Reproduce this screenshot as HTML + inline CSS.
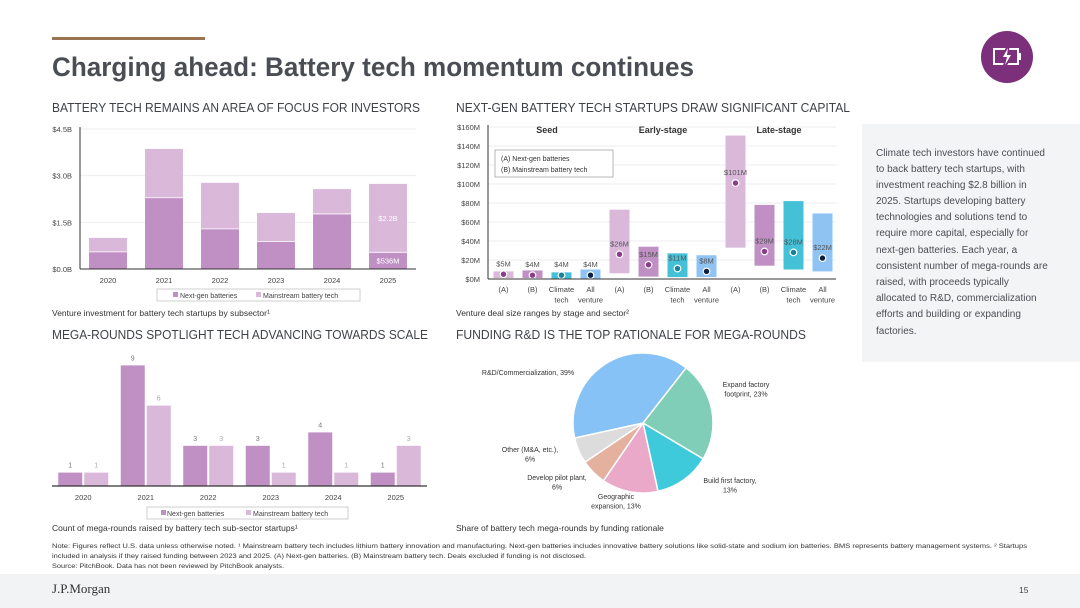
<!DOCTYPE html>
<html><head><meta charset="utf-8"><style>
html,body{margin:0;padding:0;background:#fff;}
svg{display:block;font-family:"Liberation Sans",sans-serif;}
</style></head><body>
<svg id="page" width="1080" height="608" viewBox="0 0 1080 608">
<rect x="0" y="0" width="1080" height="608" fill="#fff"/>
<rect x="52" y="37" width="153" height="3" fill="#9a7450"/>
<text x="52" y="76" font-size="27" font-weight="bold" fill="#4a4e54" textLength="642" lengthAdjust="spacingAndGlyphs">Charging ahead: Battery tech momentum continues</text>
<g>
<circle cx="1007" cy="57" r="26" fill="#7c2f7a"/>
<rect x="994" y="49" width="24" height="15" fill="none" stroke="#fff" stroke-width="2"/>
<rect x="1018" y="53" width="3" height="7" fill="#fff"/>
<path d="M1008 47 L1002 58 L1007 58 L1004 67 L1012 55 L1007 55 Z" fill="#7c2f7a" stroke="#7c2f7a" stroke-width="3"/>
<path d="M1008 48 L1003 57 L1007 57 L1005 65 L1011 55 L1007 55 Z" fill="#fff"/>
</g>
<text x="52" y="112" font-size="12.5" fill="#3f4348" textLength="368" lengthAdjust="spacingAndGlyphs">BATTERY TECH REMAINS AN AREA OF FOCUS FOR INVESTORS</text>
<text x="456" y="112" font-size="12.5" fill="#3f4348" textLength="394" lengthAdjust="spacingAndGlyphs">NEXT-GEN BATTERY TECH STARTUPS DRAW SIGNIFICANT CAPITAL</text>
<text x="52" y="339" font-size="12.5" fill="#3f4348" textLength="376" lengthAdjust="spacingAndGlyphs">MEGA-ROUNDS SPOTLIGHT TECH ADVANCING TOWARDS SCALE</text>
<text x="456" y="339" font-size="12.5" fill="#3f4348" textLength="350" lengthAdjust="spacingAndGlyphs">FUNDING R&amp;D IS THE TOP RATIONALE FOR MEGA-ROUNDS</text>

<g id="c1"></g>
<g id="c2"></g>
<g id="c3"></g>
<g id="c4"></g>

<text x="52" y="316" font-size="8.5" fill="#333">Venture investment for battery tech startups by subsector¹</text>
<text x="456" y="316" font-size="8.5" fill="#333">Venture deal size ranges by stage and sector²</text>
<text x="52" y="531" font-size="8.5" fill="#333">Count of mega-rounds raised by battery tech sub-sector startups¹</text>
<text x="456" y="531" font-size="8.5" fill="#333">Share of battery tech mega-rounds by funding rationale</text>

<g>
<rect x="862" y="124" width="218" height="238" fill="#f3f4f5"/>
<g font-size="10" fill="#4a4e54">
<text x="876" y="156">Climate tech investors have continued</text>
<text x="876" y="172">to back battery tech startups, with</text>
<text x="876" y="188">investment reaching $2.8 billion in</text>
<text x="876" y="204">2025. Startups developing battery</text>
<text x="876" y="220">technologies and solutions tend to</text>
<text x="876" y="236">require more capital, especially for</text>
<text x="876" y="253">next-gen batteries. Each year, a</text>
<text x="876" y="269">consistent number of mega-rounds are</text>
<text x="876" y="285">raised, with proceeds typically</text>
<text x="876" y="301">allocated to R&amp;D, commercialization</text>
<text x="876" y="317">efforts and building or expanding</text>
<text x="876" y="334">factories.</text>
</g></g>

<g font-size="6.6" fill="#333">
<text x="52" y="548" textLength="975" lengthAdjust="spacingAndGlyphs">Note: Figures reflect U.S. data unless otherwise noted. ¹ Mainstream battery tech includes lithium battery innovation and manufacturing. Next-gen batteries includes innovative battery solutions like solid-state and sodium ion batteries. BMS represents battery management systems. ² Startups</text>
<text x="52" y="558" textLength="534" lengthAdjust="spacingAndGlyphs">included in analysis if they raised funding between 2023 and 2025. (A) Next-gen batteries. (B) Mainstream battery tech. Deals excluded if funding is not disclosed.</text>
<text x="52" y="568" textLength="232" lengthAdjust="spacingAndGlyphs">Source: PitchBook. Data has not been reviewed by PitchBook analysts.</text>
</g>
<rect x="0" y="574" width="1080" height="34" fill="#f2f3f4"/>
<text x="52" y="593" font-family="Liberation Serif,serif" font-size="13" fill="#333">J.P.Morgan</text>
<text x="1019" y="593" font-size="8.5" fill="#444">15</text>
</svg>
<script>
const NS="http://www.w3.org/2000/svg";
function mk(p,tag,a,txt){const e=document.createElementNS(NS,tag);for(const k in a)e.setAttribute(k,a[k]);if(txt!==undefined)e.textContent=txt;p.appendChild(e);return e;}

// Chart 1 data
const c1Years=["2020","2021","2022","2023","2024","2025"];
const c1NextGen=[0.55,2.29,1.29,0.88,1.77,0.536];
const c1Mainstream=[0.45,1.57,1.48,0.92,0.80,2.2];
const c1Ticks=[0,1.5,3.0,4.5];
const c1TickLabels=["$0.0B","$1.5B","$3.0B","$4.5B"];

// Chart 2 data
const c2Cats=["(A)","(B)","Climate|tech","All|venture","(A)","(B)","Climate|tech","All|venture","(A)","(B)","Climate|tech","All|venture"];
const c2Low=[1,1,0.5,0.5,6,2.5,2,2,33,14,10,8];
const c2High=[8,9,7,10,73,34,27,25,151,78,82,69];
const c2Median=[5,4,4,4,26,15,11,8,101,29,28,22];
const c2MedLabels=["$5M","$4M","$4M","$4M","$26M","$15M","$11M","$8M","$101M","$29M","$28M","$22M"];
const c2Ticks=[0,20,40,60,80,100,120,140,160];
const c2Stages=["Seed","Early-stage","Late-stage"];

// Chart 3 data
const c3Years=["2020","2021","2022","2023","2024","2025"];
const c3NextGen=[1,9,3,3,4,1];
const c3Mainstream=[1,6,3,1,1,3];

// Chart 4 data
const c4Labels=["Expand factory|footprint, 23%","Build first factory,|13%","Geographic|expansion, 13%","Develop pilot plant,|6%","Other (M&A, etc.),|6%","R&D/Commercialization, 39%"];
const c4Values=[23,13,13,6,6,39];

const PURPLE="#c08fc4", LPURPLE="#d9b8da";

// ---- chart 1
(function(){
  const g=document.getElementById('c1');
  const x0=80,x1=416,yb=269,yt=129,max=4.5;
  const y=v=>yb-(v/max)*(yb-yt);
  const step=(x1-x0)/c1Years.length, bw=38;
  c1Ticks.forEach((t,i)=>{
    if(t>0){const l=mk(g,'line',{x1:x0,x2:x1,y1:y(t),y2:y(t),stroke:'#eceef0','stroke-width':1});}
    const tx=mk(g,'text',{x:72,y:y(t)+3,'font-size':7.5,fill:'#444','text-anchor':'end'},c1TickLabels[i]);
    
  });
  c1Years.forEach((yr,i)=>{
    const cx=x0+step*(i+0.5);
    const b1=mk(g,'rect',{x:cx-bw/2,y:y(c1NextGen[i]),width:bw,height:yb-y(c1NextGen[i]),fill:PURPLE});
    
    const tot=c1NextGen[i]+c1Mainstream[i];
    const b2=mk(g,'rect',{x:cx-bw/2,y:y(tot),width:bw,height:y(c1NextGen[i])-y(tot),fill:LPURPLE});
    
    mk(g,'line',{x1:cx-bw/2,x2:cx+bw/2,y1:y(c1NextGen[i]),y2:y(c1NextGen[i]),stroke:'#fff','stroke-width':0.8});
    const tl=mk(g,'text',{x:cx,y:283,'font-size':7.5,fill:'#444','text-anchor':'middle'},yr);
    
    if(i===c1Years.length-1){
      const a=mk(g,'text',{x:cx,y:(y(tot)+y(c1NextGen[i]))/2+3,'font-size':7.5,fill:'#fff','text-anchor':'middle'},'$'+c1Mainstream[i].toFixed(1)+'B');
      
      const b=mk(g,'text',{x:cx,y:(yb+y(c1NextGen[i]))/2+3,'font-size':7.5,fill:'#fff','text-anchor':'middle'},'$'+Math.round(c1NextGen[i]*1000)+'M');
      
    }
  });
  mk(g,'line',{x1:x0,x2:x0,y1:yt-2,y2:yb,stroke:'#333','stroke-width':1});
  mk(g,'line',{x1:x0,x2:x1,y1:yb,y2:yb,stroke:'#333','stroke-width':1});
  const lg=mk(g,'g',{});
  mk(lg,'rect',{x:157,y:289,width:203,height:12,fill:'#fff',stroke:'#bbb','stroke-width':0.7});
  mk(lg,'rect',{x:173,y:292,width:5,height:5,fill:PURPLE});
  mk(lg,'text',{x:180,y:298,'font-size':7,fill:'#444'},'Next-gen batteries');
  mk(lg,'rect',{x:256,y:292,width:5,height:5,fill:LPURPLE});
  mk(lg,'text',{x:263,y:298,'font-size':7,fill:'#444'},'Mainstream battery tech');
})();

// ---- chart 2
(function(){
  const g=document.getElementById('c2');
  const x0=488,x1=836,yb=279,yt=127,max=160;
  const y=v=>yb-(v/max)*(yb-yt);
  const step=(x1-x0)/c2Cats.length, bw=20;
  const fills=["#d9b8da","#c08fc4","#45c1d7","#8ec3f4"];
  const dots=["#8a3e88","#8a3e88","#17839a","#0e1f42"];
  c2Ticks.forEach(t=>{
    if(t>0){const l=mk(g,'line',{x1:x0,x2:x1,y1:y(t),y2:y(t),stroke:'#eceef0','stroke-width':1});}
    const tx=mk(g,'text',{x:480,y:y(t)+3,'font-size':7.5,fill:'#444','text-anchor':'end'},'$'+t+'M');
    
  });
  c2Cats.forEach((c,i)=>{
    const cx=x0+step*(i+0.5)+1, k=i%4;
    const r=mk(g,'rect',{x:cx-bw/2,y:y(c2High[i]),width:bw,height:y(c2Low[i])-y(c2High[i]),fill:fills[k]});
    
    const d=mk(g,'circle',{cx:cx,cy:y(c2Median[i]),r:3.3,fill:dots[k],stroke:'#fff','stroke-width':1.2});
    
    const lb=mk(g,'text',{x:cx,y:y(c2Median[i])-8,'font-size':7.5,fill:'#555','text-anchor':'middle'},c2MedLabels[i]);
    
    c.split('|').forEach((p,j)=>{const t=mk(g,'text',{x:cx,y:292+j*10.5,'font-size':7.5,fill:'#444','text-anchor':'middle'},p);});
  });
  c2Stages.forEach((s,i)=>{
    const cx=x0+step*(i*4+2)+1;
    const t=mk(g,'text',{x:cx,y:133,'font-size':9,'font-weight':'bold',fill:'#333','text-anchor':'middle'},s);
    
  });
  mk(g,'line',{x1:x0,x2:x0,y1:yt-2,y2:yb,stroke:'#333','stroke-width':1});
  mk(g,'line',{x1:x0,x2:x1,y1:yb,y2:yb,stroke:'#333','stroke-width':1});
  const lg=mk(g,'g',{});
  mk(lg,'rect',{x:495,y:150,width:118,height:27,fill:'#fff',stroke:'#999','stroke-width':0.7});
  mk(lg,'text',{x:501,y:161,'font-size':7,fill:'#333'},'(A)   Next-gen batteries');
  mk(lg,'text',{x:501,y:172,'font-size':7,fill:'#333'},'(B)   Mainstream battery tech');
})();

// ---- chart 3
(function(){
  const g=document.getElementById('c3');
  const x0=52,x1=427,yb=486,max=9,unit=13.4;
  const y=v=>yb-v*unit;
  const step=(x1-x0)/c3Years.length, bw=24;
  c3Years.forEach((yr,i)=>{
    const cx=x0+step*(i+0.5);
    const a=mk(g,'rect',{x:cx-bw-1,y:y(c3NextGen[i]),width:bw,height:yb-y(c3NextGen[i]),fill:PURPLE});
    
    const b=mk(g,'rect',{x:cx+1,y:y(c3Mainstream[i]),width:bw,height:yb-y(c3Mainstream[i]),fill:LPURPLE});
    
    const la=mk(g,'text',{x:cx-bw/2-1,y:y(c3NextGen[i])-5,'font-size':7,fill:'#777','text-anchor':'middle'},c3NextGen[i]);
    
    const lb=mk(g,'text',{x:cx+bw/2+1,y:y(c3Mainstream[i])-5,'font-size':7,fill:'#aaa','text-anchor':'middle'},c3Mainstream[i]);
    
    const t=mk(g,'text',{x:cx,y:500,'font-size':7.5,fill:'#444','text-anchor':'middle'},yr);
    
  });
  mk(g,'line',{x1:x0,x2:x1,y1:yb,y2:yb,stroke:'#333','stroke-width':1.2});
  const lg=mk(g,'g',{});
  mk(lg,'rect',{x:147,y:507,width:201,height:12,fill:'#fff',stroke:'#bbb','stroke-width':0.7});
  mk(lg,'rect',{x:161,y:510,width:5,height:5,fill:PURPLE});
  mk(lg,'text',{x:167,y:516,'font-size':7,fill:'#444'},'Next-gen batteries');
  mk(lg,'rect',{x:246,y:510,width:5,height:5,fill:LPURPLE});
  mk(lg,'text',{x:253,y:516,'font-size':7,fill:'#444'},'Mainstream battery tech');
})();

// ---- chart 4 pie
(function(){
  const g=document.getElementById('c4');
  const cx=643,cy=423,r=70;
  const colors=["#80cdb8","#3fcadc","#eba9c9","#e4b19e","#dcdcdc","#86c2f6"];
  const labelPos=[[746,387],[730,483],[616,499],[557,480],[530,452],[528,375]];
  const total=c4Values.reduce((a,b)=>a+b,0);
  let ang=38*Math.PI/180;
  const pt=a=>[cx+r*Math.sin(a),cy-r*Math.cos(a)];
  c4Values.forEach((v,i)=>{
    const a2=ang+v/total*2*Math.PI;
    const p1=pt(ang),p2=pt(a2),large=(a2-ang)>Math.PI?1:0;
    const s=mk(g,'path',{d:`M${cx} ${cy} L${p1[0]} ${p1[1]} A${r} ${r} 0 ${large} 1 ${p2[0]} ${p2[1]} Z`,fill:colors[i],stroke:'#fff','stroke-width':1.5});
    
    ang=a2;
    const parts=c4Labels[i].split('|');
    parts.forEach((p,j)=>{const t=mk(g,'text',{x:labelPos[i][0],y:labelPos[i][1]+j*9.5,'font-size':7,fill:'#333','text-anchor':'middle'},p);});
  });
})();
</script>
</body></html>
